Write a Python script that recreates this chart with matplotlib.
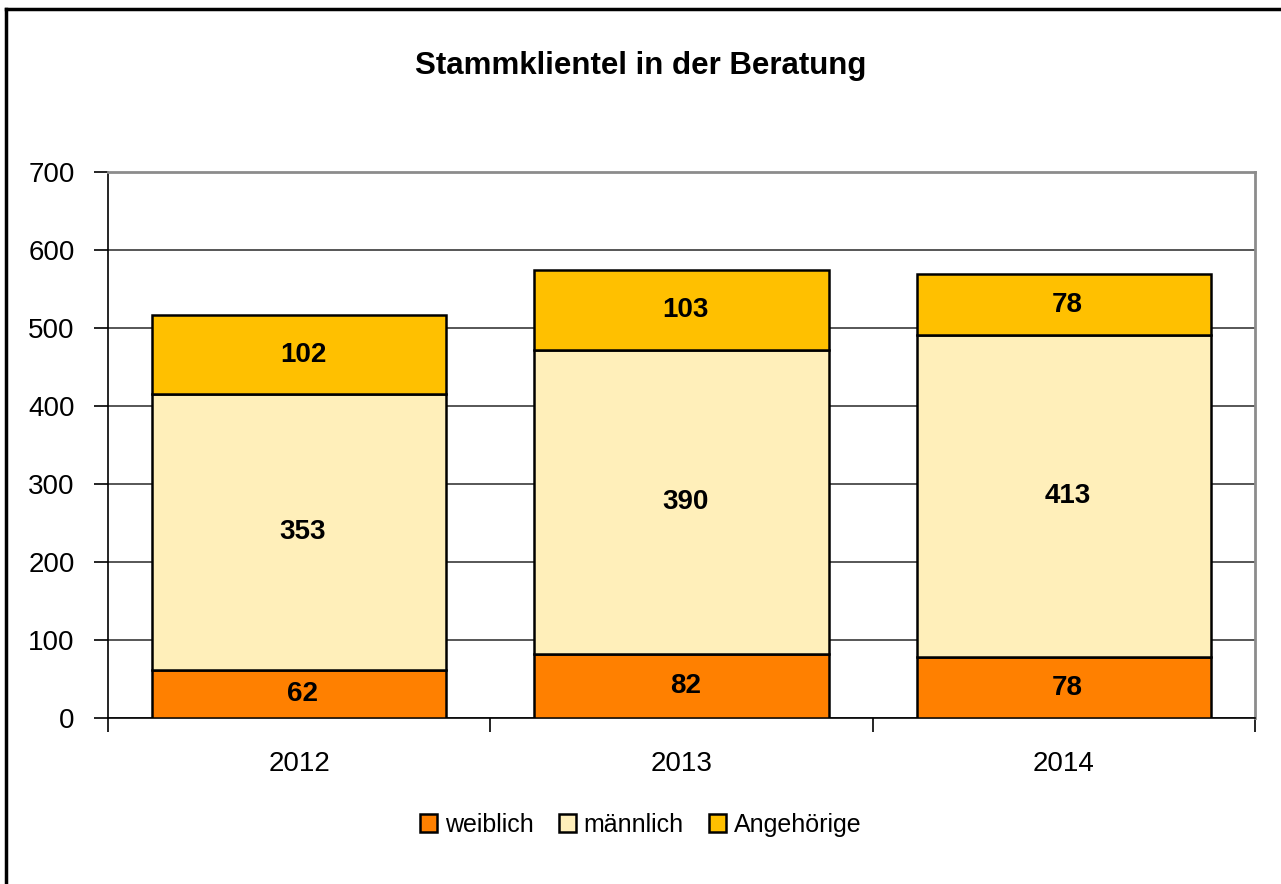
import matplotlib.pyplot as plt
from matplotlib.lines import Line2D
import numpy as np

plt.rcParams['font.family'] = ['Liberation Sans', 'DejaVu Sans']

years = ['2012', '2013', '2014']
weiblich = [62, 82, 78]
maennlich = [353, 390, 413]
angehoerige = [102, 103, 78]

series = [
    ('weiblich', weiblich, '#FF8000'),
    ('männlich', maennlich, '#FFEFBA'),
    ('Angehörige', angehoerige, '#FFC000'),
]

fig = plt.figure(figsize=(12.81, 8.84), dpi=100)
ax = fig.add_axes([0.0843, 0.1878, 0.8954, 0.6176])

x = np.arange(len(years))
bottom = np.zeros(len(years))
for name, vals, color in series:
    ax.bar(x, vals, width=0.77, bottom=bottom, color=color,
           edgecolor='black', linewidth=1.8, label=name, zorder=3)
    for xi, b, v in zip(x, bottom, vals):
        ax.text(xi + 0.01, b + v / 2, str(v), ha='center', va='center',
                fontsize=20, fontweight='bold', zorder=4)
    bottom += np.array(vals)

ax.set_xlim(-0.5, 2.5)
ax.set_ylim(0, 700)
ax.set_yticks(range(0, 701, 100))
ax.yaxis.grid(True, color='#3a3a3a', linewidth=1.2, zorder=0)
ax.tick_params(axis='y', labelsize=20, length=10, width=1.2, pad=14)

ax.set_xticks(x)
ax.set_xticklabels(years)
ax.tick_params(axis='x', which='major', length=0, labelsize=20, pad=24)
ax.set_xticks([-0.5, 0.5, 1.5, 2.5], minor=True)
ax.tick_params(axis='x', which='minor', length=10, width=1.2)

for side in ['top', 'right']:
    ax.spines[side].set_color('#8c8c8c')
    ax.spines[side].set_linewidth(2)
ax.spines['left'].set_linewidth(1.2)
ax.spines['bottom'].set_linewidth(1.2)

fig.text(0.5, 0.925, 'Stammklientel in der Beratung', ha='center', va='center',
         fontsize=22.5, fontweight='bold')

handles, labels = ax.get_legend_handles_labels()
fig.legend(handles, labels, loc='center', bbox_to_anchor=(0.5, 0.067), ncol=3,
           frameon=False, fontsize=18, handlelength=0.7, handleheight=0.7,
           handletextpad=0.3, columnspacing=1.0)

# outer border of chart (top and left edges visible)
fig.add_artist(Line2D([0.005, 0.005], [0, 0.99], transform=fig.transFigure,
                      color='black', linewidth=2.5))
fig.add_artist(Line2D([0.005, 1], [0.99, 0.99], transform=fig.transFigure,
                      color='black', linewidth=2.5))

fig.savefig('out.png', dpi=100)
